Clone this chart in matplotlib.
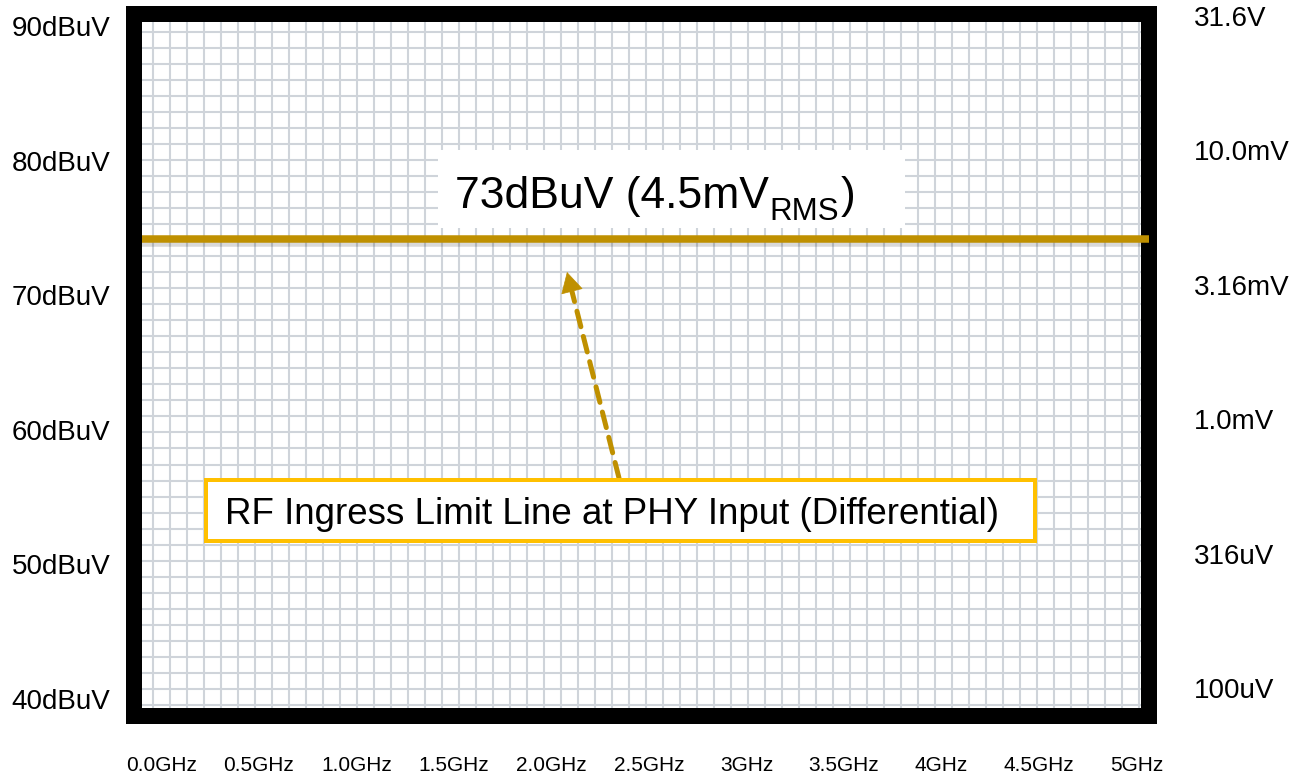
import numpy as np
import matplotlib
matplotlib.use("Agg")
import matplotlib.pyplot as plt
import matplotlib.patheffects as pe
from matplotlib.patches import Rectangle, FancyArrowPatch

plt.rcParams['font.family'] = ['Liberation Sans', 'DejaVu Sans']

# données
freq_ghz = [0.0, 0.5, 1.0, 1.5, 2.0, 2.5, 3.0, 3.5, 4.0, 4.5, 5.0]
freq_labels = ["0.0GHz", "0.5GHz", "1.0GHz", "1.5GHz", "2.0GHz", "2.5GHz",
               "3GHz", "3.5GHz", "4GHz", "4.5GHz", "5GHz"]
level_dbuv = [90, 80, 70, 60, 50, 40]
level_labels = ["90dBuV", "80dBuV", "70dBuV", "60dBuV", "50dBuV", "40dBuV"]
volt_labels = ["31.6V", "10.0mV", "3.16mV", "1.0mV", "316uV", "100uV"]
limit_dbuv = 74.2
limit_text = "73dBuV (4.5mV"
limit_sub = "RMS"
note_text = "RF Ingress Limit Line at PHY Input (Differential)"

W, H = 1291, 775
fig = plt.figure(figsize=(W / 100, H / 100), dpi=100)


def fx(x):
    return x / W


def fy(y):
    return 1 - y / H


# cadre (en pixels)
L, R, T, B = 134, 1148.5, 13.5, 716
rect = [fx(L), fy(B), fx(R) - fx(L), fy(T) - fy(B)]

# quadrillage de fond
bg = fig.add_axes(rect, zorder=0)
bg.set_xlim(L, R)
bg.set_ylim(B, T)
bg.axis('off')
for x in np.arange(153.3, 1140, 17.0):
    bg.axvline(x, color='#CFD4DA', lw=1.5)
for y in np.arange(31.7, 708, 16.03):
    bg.axhline(y, color='#CFD4DA', lw=1.5)

# axes principaux
ax = fig.add_axes(rect, zorder=1)
ax.patch.set_alpha(0)
ax.set_xlim(-0.141, 5.0615)
ax.set_ylim(38.737, 90.929)
ax.set_xticks(freq_ghz, freq_labels, fontsize=15)
ax.set_yticks(level_dbuv, level_labels, fontsize=20)
ax.tick_params(axis='x', length=0, pad=29)
ax.tick_params(axis='y', length=0, pad=17)
for s in ax.spines.values():
    s.set_linewidth(16 * 0.72)
    s.set_color('black')

ax2 = ax.twinx()
ax2.set_ylim(37.917, 90.186)
ax2.set_yticks(level_dbuv, volt_labels, fontsize=20)
ax2.tick_params(axis='y', length=0, pad=33)
for s in ax2.spines.values():
    s.set_visible(False)

# ligne limite
ax.axhline(limit_dbuv, xmin=(142 - L) / (R - L), xmax=1.0, color='#BF9000',
           lw=7.5 * 0.72, clip_on=False, zorder=3, solid_capstyle='butt',
           path_effects=[pe.SimpleLineShadow(offset=(0, -3), shadow_color='black', alpha=0.15),
                         pe.Normal()])

# étiquette du haut (texte + indice RMS)
fig.add_artist(Rectangle((fx(438), fy(228)), fx(905) - fx(438), fy(150) - fy(228),
                         transform=fig.transFigure, facecolor='white', edgecolor='none', zorder=5))
renderer = fig.canvas.get_renderer()
t1 = fig.text(fx(455), fy(208), limit_text, fontsize=32, ha='left', va='baseline', zorder=6)
x1 = t1.get_window_extent(renderer).x1
t2 = fig.text((x1 + 1) / W, fy(220), limit_sub, fontsize=22.5, ha='left', va='baseline', zorder=6)
x2 = t2.get_window_extent(renderer).x1
fig.text((x2 + 1) / W, fy(208), ")", fontsize=32, ha='left', va='baseline', zorder=6)

# boîte du bas
fig.add_artist(Rectangle((fx(206), fy(541)), fx(1035) - fx(206), fy(480) - fy(541),
                         transform=fig.transFigure, facecolor='white', edgecolor='#FFC000',
                         lw=4 * 0.72, zorder=5))
fig.text(fx(225), fy(524), note_text, fontsize=26.5, ha='left', va='baseline', zorder=6)

# flèche pointillée : trait puis tête pleine
tail = (619, 478)
tip = (567, 272)
base = (570.6, 286)
fig.add_artist(FancyArrowPatch((fx(tail[0]), fy(tail[1])), (fx(base[0]), fy(base[1])),
                               transform=fig.transFigure, arrowstyle='-',
                               color='#BF9000', lw=5 * 0.72, linestyle=(0, (3.2, 2)),
                               shrinkA=0, shrinkB=0, zorder=4))
fig.add_artist(FancyArrowPatch((fx(base[0]), fy(base[1])), (fx(tip[0]), fy(tip[1])),
                               transform=fig.transFigure,
                               arrowstyle='-|>,head_length=0.55,head_width=0.3',
                               mutation_scale=25, color='#BF9000', lw=0.5,
                               shrinkA=0, shrinkB=0, zorder=4))

fig.savefig("out.png", dpi=100, facecolor='white')
